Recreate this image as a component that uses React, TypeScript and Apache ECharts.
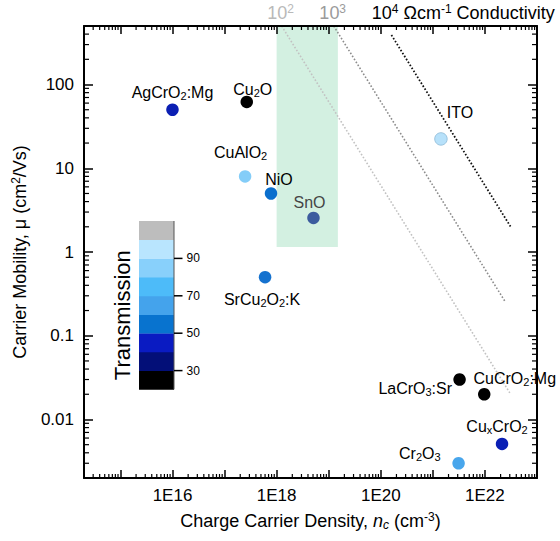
import React, { useEffect, useRef } from 'react';
import * as echarts from 'echarts';

const FONT = '"Liberation Sans", Arial, Helvetica, sans-serif';

// Axis extents (log scales)
const X_MIN = 2e14;
const X_MAX = 1e23;
const Y_MIN = 0.002;
const Y_MAX = 500;

// Transparent conducting oxides: carrier density (cm^-3) and Hall mobility (cm^2/Vs)
const materials = [
  'AgCrO{s|2}:Mg',
  'Cu{s|2}O',
  'CuAlO{s|2}',
  'NiO',
  'SnO',
  'SrCu{s|2}O{s|2}:K',
  'ITO',
  'LaCrO{s|3}:Sr',
  'CuCrO{s|2}:Mg',
  'Cu{s|x}CrO{s|2}',
  'Cr{s|2}O{s|3}',
];
const carrierDensity = [1e16, 2.67e17, 2.48e17, 7.8e17, 5.1e18, 6.0e17, 1.43e21, 3.26e21, 9.7e21, 2.13e22, 3.12e21];
const carrierMobility = [50, 62, 8, 5, 2.55, 0.5, 22.4, 0.03, 0.02, 0.0051, 0.003];
const pointColors = [
  '#0b1fb3', '#000000', '#84cdf8', '#0a6fcd', '#3c5c9e', '#1572cf',
  '#b7e1fa', '#000000', '#000000', '#0a1fb5', '#48a6ec',
];

// Label placement next to each marker: [dx, dy, align]
const labelPlacement: [number, number, string][] = [
  [0, -17, 'center'],
  [6, -12, 'center'],
  [-4.5, -24, 'center'],
  [8, -14, 'center'],
  [-4, -15.5, 'center'],
  [-3, 22, 'center'],
  [19, -26, 'center'],
  [-7.5, 8.5, 'right'],
  [-10.7, -16, 'left'],
  [-5, -17, 'center'],
  [-18, -10, 'right'],
];

// Iso-conductivity lines sigma = q * n * mu (S/cm)
const ELEMENTARY_CHARGE = 1.602e-19;
const conductivityValues = [1e2, 1e3, 1e4];
const conductivityDensityRange = [
  [1.25e18, 3.0e22],
  [1.25e19, 2.4e22],
  [1.6e20, 3.1e22],
];
const conductivityLabels = ['10{sup|2}', '10{sup|3}', '10{sup|4} Ωcm{sup|-1} Conductivity'];
const conductivityColors = ['#c2c2c2', '#8c8c8c', '#111111'];
const conductivityLabelColors = ['#b9b9b9', '#9b9b9b', '#000000'];

// Shaded p-type window
const windowDensity = [1e18, 1.5e19];
const windowMobility = [1.15, 500];

// Transmission colour scale (%), bands from 20 to 110
const transmissionBounds = [20, 30, 40, 50, 60, 70, 80, 90, 100, 110];
const transmissionColors = [
  '#000000', '#030f78', '#0a1bc2', '#0873cf', '#44a3ec',
  '#4dbbf9', '#88d0fb', '#b9e5fe', '#bdbdbd',
];
const transmissionTicks = [30, 50, 70, 90];

const subRich = {
  s: { fontSize: 11, lineHeight: 9, verticalAlign: 'bottom', fontFamily: FONT },
};

function decadeExp(v: number): number | null {
  const l = Math.log10(v);
  const e = Math.round(l);
  return Math.abs(l - e) < 1e-6 ? e : null;
}

export default function App() {
  const ref = useRef<HTMLDivElement>(null);

  useEffect(() => {
    if (!ref.current) return;
    const chart = echarts.init(ref.current, undefined, { renderer: 'svg' });

    const points = carrierDensity.map((n, i) => ({
      value: [n, carrierMobility[i]],
      name: materials[i],
      itemStyle:
        i === 6
          ? { color: pointColors[i], borderColor: '#8bb9d6', borderWidth: 0.8, opacity: 1 }
          : { color: pointColors[i], opacity: 1 },
      label: {
        offset: [labelPlacement[i][0], labelPlacement[i][1]],
        align: labelPlacement[i][2],
        color: i === 4 ? '#454545' : '#000',
        opacity: 1,
      },
    }));

    // Minor ticks (2..9 within each decade) on all four sides
    const minorTicks: number[][] = [];
    for (let e = 14; e <= 22; e++) {
      for (let m = 2; m <= 9; m++) {
        const v = m * Math.pow(10, e);
        if (v > X_MIN * 1.0001 && v < X_MAX * 0.9999) minorTicks.push([v, 1, 0]);
      }
    }
    for (let e = -3; e <= 2; e++) {
      for (let m = 2; m <= 9; m++) {
        const v = m * Math.pow(10, e);
        if (v > Y_MIN * 1.0001 && v < Y_MAX * 0.9999) minorTicks.push([1e18, v, 1]);
      }
    }

    const lineSeries = conductivityValues.map((sigma, i) => ({
      type: 'line',
      name: 'sigma' + sigma,
      symbol: 'none',
      z: 3,
      silent: true,
      lineStyle: {
        color: conductivityColors[i],
        width: i === 2 ? 1.8 : 1.6,
        type: [1.6, 1.9],
        opacity: 1,
      },
      data: conductivityDensityRange[i].map((n) => [n, sigma / (ELEMENTARY_CHARGE * n)]),
    }));

    const axisLine = { onZero: false, lineStyle: { color: '#000', width: 2 } };
    const tickStyle = { color: '#000', width: 1.5 };

    const bandH = 18.7;
    const cbX = 139;
    const cbW = 35;
    const cbTop = 221;
    const cbBottom = cbTop + bandH * transmissionColors.length;
    const yOfT = (t: number) =>
      cbBottom - ((t - transmissionBounds[0]) / (transmissionBounds[1] - transmissionBounds[0])) * bandH;

    const graphic: any[] = [];
    transmissionColors.forEach((c, i) => {
      const yTop = yOfT(transmissionBounds[i + 1]);
      graphic.push({
        type: 'rect',
        shape: { x: cbX, y: yTop, width: cbW, height: bandH + 0.4 },
        style: { fill: c },
        z: 20,
      });
    });
    graphic.push({
      type: 'line',
      shape: { x1: cbX + cbW, y1: cbTop, x2: cbX + cbW, y2: cbBottom },
      style: { stroke: '#555', lineWidth: 1 },
      z: 21,
    });
    transmissionTicks.forEach((t) => {
      const y = yOfT(t);
      graphic.push({
        type: 'line',
        shape: { x1: cbX + cbW, y1: y, x2: cbX + cbW + 8.5, y2: y },
        style: { stroke: '#000', lineWidth: 1.5 },
        z: 21,
      });
      graphic.push({
        type: 'text',
        x: cbX + cbW + 12.5,
        y,
        style: {
          text: String(t),
          fill: '#000',
          font: '12px ' + FONT,
          textAlign: 'left',
          textVerticalAlign: 'middle',
        },
        z: 21,
      });
    });
    graphic.push({
      type: 'text',
      x: 122,
      y: cbTop + (cbBottom - cbTop) / 2 + 10,
      rotation: Math.PI / 2,
      style: {
        text: 'Transmission',
        fill: '#000',
        font: '22px ' + FONT,
        textAlign: 'center',
        textVerticalAlign: 'middle',
      },
      z: 21,
    });

    const option: any = {
      animation: false,
      backgroundColor: '#ffffff',
      textStyle: { fontFamily: FONT },
      grid: { left: 84, right: 23, top: 26, bottom: 63, outerBoundsMode: 'none' },
      xAxis: [
        {
          type: 'log',
          logBase: 10,
          min: X_MIN,
          max: X_MAX,
          position: 'bottom',
          z: 10,
          name: 'Charge Carrier Density, {it|n}{itsub|c} (cm{sup|-3})',
          nameLocation: 'middle',
          nameGap: 33,
          nameTextStyle: {
            fontSize: 18,
            color: '#000',
            fontFamily: FONT,
            lineHeight: 20,
            rich: {
              it: { fontSize: 18, fontStyle: 'italic', lineHeight: 20, fontFamily: FONT },
              itsub: { fontSize: 12, fontStyle: 'italic', lineHeight: 10, verticalAlign: 'bottom', fontFamily: FONT },
              sup: { fontSize: 12, lineHeight: 11, verticalAlign: 'top', fontFamily: FONT },
            },
          },
          axisLine,
          axisTick: { inside: true, length: 8, lineStyle: tickStyle },
          axisLabel: {
            fontSize: 17,
            color: '#000',
            margin: 9,
            showMinLabel: false,
            showMaxLabel: false,
            formatter: (v: number) => {
              const e = decadeExp(v);
              return e !== null && e % 2 === 0 ? '1E' + e : '';
            },
          },
          splitLine: { show: false },
        },
        {
          type: 'log',
          logBase: 10,
          min: X_MIN,
          max: X_MAX,
          position: 'top',
          z: 10,
          axisLine,
          axisTick: { inside: true, length: 8, lineStyle: tickStyle },
          axisLabel: { show: false },
          splitLine: { show: false },
        },
      ],
      yAxis: [
        {
          type: 'log',
          logBase: 10,
          min: Y_MIN,
          max: Y_MAX,
          position: 'left',
          z: 10,
          name: 'Carrier Mobility, μ (cm{sup|2}/Vs)',
          nameLocation: 'middle',
          nameGap: 48,
          nameTextStyle: {
            fontSize: 18,
            color: '#000',
            fontFamily: FONT,
            lineHeight: 20,
            rich: {
              sup: { fontSize: 12, lineHeight: 11, verticalAlign: 'top', fontFamily: FONT },
            },
          },
          axisLine,
          axisTick: { inside: true, length: 9, lineStyle: tickStyle },
          axisLabel: {
            fontSize: 17,
            color: '#000',
            margin: 10,
            showMinLabel: false,
            showMaxLabel: false,
            formatter: (v: number) => {
              const e = decadeExp(v);
              if (e === null) return '';
              return e < 0 ? Math.pow(10, e).toFixed(-e) : String(Math.pow(10, e));
            },
          },
          splitLine: { show: false },
        },
        {
          type: 'log',
          logBase: 10,
          min: Y_MIN,
          max: Y_MAX,
          position: 'right',
          z: 10,
          axisLine,
          axisTick: { inside: true, length: 9, lineStyle: tickStyle },
          axisLabel: { show: false },
          splitLine: { show: false },
        },
      ],
      series: [
        {
          type: 'line',
          name: 'window',
          data: [],
          z: 1,
          silent: true,
          markArea: {
            silent: true,
            itemStyle: { color: '#d3f0e1', opacity: 1 },
            data: [
              [
                { coord: [windowDensity[0], windowMobility[0]] },
                { coord: [windowDensity[1], windowMobility[1]] },
              ],
            ],
          },
        },
        ...lineSeries,
        {
          type: 'scatter',
          name: 'conductivity labels',
          symbolSize: 1,
          itemStyle: { color: 'rgba(0,0,0,0)' },
          silent: true,
          clip: false,
          z: 6,
          data: conductivityValues.map((sigma, i) => ({
            value: [sigma / (ELEMENTARY_CHARGE * Y_MAX), Y_MAX],
            label: {
              show: true,
              position: ['50%', '50%'],
              align: i === 2 ? 'left' : 'center',
              verticalAlign: 'middle',
              offset: [i === 2 ? -14 : -1, -13],
              formatter: conductivityLabels[i],
              fontSize: 18,
              lineHeight: 20,
              color: conductivityLabelColors[i],
              opacity: 1,
              fontFamily: FONT,
              rich: {
                sup: {
                  fontSize: 12,
                  lineHeight: 11,
                  verticalAlign: 'top',
                  color: conductivityLabelColors[i],
                  fontFamily: FONT,
                },
              },
            },
          })),
        },
        {
          type: 'scatter',
          name: 'materials',
          symbol: 'circle',
          symbolSize: 12.5,
          z: 5,
          itemStyle: { opacity: 1 },
          label: {
            show: true,
            position: ['50%', '50%'],
            verticalAlign: 'middle',
            fontSize: 16,
            lineHeight: 18,
            fontFamily: FONT,
            textBorderWidth: 0,
            opacity: 1,
            formatter: (p: any) => p.name,
            rich: subRich,
          },
          data: points,
        },
        {
          type: 'custom',
          name: 'minor ticks',
          z: 11,
          silent: true,
          clip: false,
          encode: { x: 0, y: 1 },
          data: minorTicks,
          renderItem: (params: any, api: any) => {
            const cs = params.coordSys;
            const isY = api.value(2) === 1;
            const pt = api.coord([api.value(0), api.value(1)]);
            const style = { stroke: '#000', lineWidth: 1.2 };
            if (!isY) {
              const x = pt[0];
              const b = cs.y + cs.height;
              return {
                type: 'group',
                children: [
                  { type: 'line', shape: { x1: x, y1: b, x2: x, y2: b - 4 }, style },
                  { type: 'line', shape: { x1: x, y1: cs.y, x2: x, y2: cs.y + 4 }, style },
                ],
              };
            }
            const y = pt[1];
            const r = cs.x + cs.width;
            return {
              type: 'group',
              children: [
                { type: 'line', shape: { x1: cs.x, y1: y, x2: cs.x + 5, y2: y }, style },
                { type: 'line', shape: { x1: r, y1: y, x2: r - 5, y2: y }, style },
              ],
            };
          },
        },
      ],
      graphic,
    };

    chart.setOption(option);
    return () => chart.dispose();
  }, []);

  return (
    <div
      ref={ref}
      style={{ position: 'absolute', left: 0, top: 0, width: 560, height: 541, background: '#fff' }}
    />
  );
}
